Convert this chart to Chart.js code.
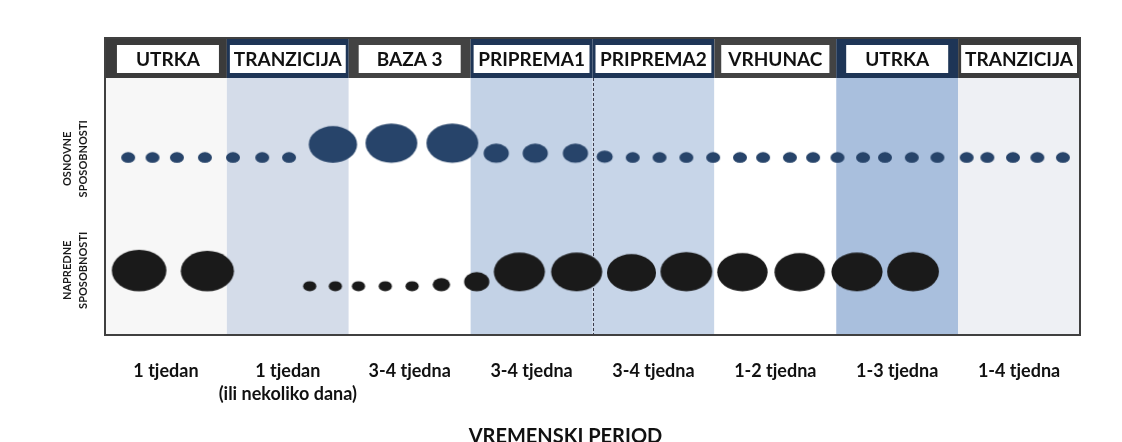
<!DOCTYPE html>
<html>
<head>
<meta charset="utf-8">
<script src="https://cdn.jsdelivr.net/npm/chart.js@4.4.1/dist/chart.umd.min.js"></script>
<style>
  html, body { margin: 0; padding: 0; background: #ffffff; }
  #wrap { width: 1122px; height: 442px; }
</style>
</head>
<body>
<div id="wrap"><canvas id="periodChart" width="1122" height="442"></canvas></div>
<script>
// Phases (columns) and their durations
const phases = ["UTRKA", "TRANZICIJA", "BAZA 3", "PRIPREMA1", "PRIPREMA2", "VRHUNAC", "UTRKA", "TRANZICIJA"];
const durations = [
  ["1 tjedan"],
  ["1 tjedan", "(ili nekoliko dana)"],
  ["3-4 tjedna"],
  ["3-4 tjedna"],
  ["3-4 tjedna"],
  ["1-2 tjedna"],
  ["1-3 tjedna"],
  ["1-4 tjedna"],
];
const axisTitle = "VREMENSKI PERIOD";
const rowLabels = [["OSNOVNE", "SPOSOBNOSTI"], ["NAPREDNE", "SPOSOBNOSTI"]];
const rowLevels = [0.67, 0.17];

// Basic abilities: position along the period (in columns) and emphasis
const osnovneX = [0.19, 0.39, 0.59, 0.82, 1.05, 1.29, 1.51, 1.87, 2.35, 2.85, 3.21, 3.53, 3.86, 4.10,
  4.33, 4.55, 4.77, 4.99, 5.21, 5.40, 5.62, 5.81, 6.01, 6.22, 6.40, 6.62, 6.83, 7.07, 7.24, 7.45, 7.65, 7.86];
const osnovneSize = [1, 1, 1, 1, 1, 1, 1, 3.45, 3.7, 3.7, 1.8, 1.8, 1.8, 1.15,
  1, 1, 1, 1, 1, 1, 1, 1, 1, 1, 1, 1, 1, 1, 1, 1, 1, 1];

// Advanced abilities
const napredneX = [0.28, 0.84, 1.68, 1.89, 2.08, 2.30, 2.52, 2.76, 3.05, 3.40, 3.87, 4.32, 4.77, 5.23, 5.70, 6.17, 6.63];
const napredneSize = [3.9, 3.8, 0.95, 0.95, 0.95, 0.95, 0.95, 1.25, 1.8, 3.65, 3.65, 3.5, 3.7, 3.6, 3.6, 3.65, 3.7];

// Styles
const colFill = ["#f7f7f7", "#d4dce9", "#ffffff", "#c3d2e6", "#c7d5e8", "#ffffff", "#a9bfdd", "#eef0f4"];
const headFill = ["#3b3b3b", "#1e3556", "#434343", "#1e3556", "#1e3556", "#434343", "#1e3556", "#3b3b3b"];
const FONT = "Lato, 'Open Sans', sans-serif";

// ellipse images, bottom-aligned on the point
const ellipseCache = {};
function ellipseStyle(size, color) {
  const key = size + color;
  if (ellipseCache[key]) return ellipseCache[key];
  const w = 14 * size;
  const h = w * 0.76;
  const c = document.createElement("canvas");
  c.width = Math.ceil(w + 2);
  c.height = Math.ceil(h * 2 + 2);
  const g = c.getContext("2d");
  g.fillStyle = color;
  g.beginPath();
  g.ellipse(c.width / 2, c.height / 2 - h / 2, w / 2, h / 2, 0, 0, Math.PI * 2);
  g.fill();
  ellipseCache[key] = c;
  return c;
}

const periodPlugin = {
  id: "periodFrame",
  beforeDatasetsDraw: function (chart) {
    const ctx = chart.ctx;
    const area = chart.chartArea;
    const xs = chart.scales.x;
    ctx.save();
    // column backgrounds
    phases.forEach(function (p, i) {
      const x0 = xs.getPixelForValue(i);
      const x1 = xs.getPixelForValue(i + 1);
      ctx.fillStyle = colFill[i];
      ctx.fillRect(x0, area.top, x1 - x0, area.bottom - area.top);
    });
    // dashed divider between PRIPREMA1 and PRIPREMA2
    const xd = Math.round(xs.getPixelForValue(4)) + 0.5;
    ctx.beginPath();
    ctx.setLineDash([3, 2]);
    ctx.moveTo(xd, area.top);
    ctx.lineTo(xd, area.bottom);
    ctx.lineWidth = 1;
    ctx.strokeStyle = "#3a3a4a";
    ctx.stroke();
    ctx.restore();
  },
  afterDraw: function (chart) {
    const ctx = chart.ctx;
    const area = chart.chartArea;
    const xs = chart.scales.x;
    const ys = chart.scales.y;
    ctx.save();
    // header band
    const headTop = area.top - 40;
    phases.forEach(function (p, i) {
      const x0 = xs.getPixelForValue(i);
      const x1 = xs.getPixelForValue(i + 1);
      ctx.fillStyle = headFill[i];
      ctx.fillRect(x0, headTop, x1 - x0, 40);
    });
    ctx.font = "bold 19px " + FONT;
    ctx.textAlign = "center";
    ctx.textBaseline = "middle";
    phases.forEach(function (p, i) {
      const x0 = xs.getPixelForValue(i);
      const x1 = xs.getPixelForValue(i + 1);
      const tw = ctx.measureText(p).width;
      const bw = Math.min(Math.max(tw + 14, 102), x1 - x0 - 6);
      const cx = (x0 + x1) / 2 + (i === 0 ? 2 : 0);
      ctx.fillStyle = "#ffffff";
      ctx.fillRect(cx - bw / 2, headTop + 7, bw, 28);
      ctx.fillStyle = "#111111";
      ctx.fillText(p, cx, headTop + 22);
    });
    // frame
    ctx.strokeStyle = "#404040";
    ctx.lineWidth = 2;
    ctx.strokeRect(area.left, headTop, area.right - area.left, area.bottom - headTop);
    // row labels, rotated
    ctx.fillStyle = "#1a1a1a";
    ctx.font = "bold 11px " + FONT;
    rowLabels.forEach(function (lines, r) {
      const cy = ys.getPixelForValue(rowLevels[r]) - (r === 0 ? 4 : 21);
      lines.forEach(function (t, k) {
        ctx.save();
        ctx.translate(67 + k * 16, cy);
        ctx.rotate(-Math.PI / 2);
        ctx.fillText(t, 0, 0);
        ctx.restore();
      });
    });
    // axis title, sits a little left of centre and runs off the bottom edge
    ctx.font = "bold 20px " + FONT;
    ctx.fillStyle = "#111111";
    ctx.textBaseline = "alphabetic";
    ctx.fillText(axisTitle, (area.left + area.right) / 2 - 27, chart.height + 1);
    ctx.restore();
  },
};

function toPoints(xs, sizes, level) {
  return xs.map(function (x, i) {
    return { x: x, y: level, s: sizes[i] };
  });
}

const ctx = document.getElementById("periodChart").getContext("2d");
const periodChart = new Chart(ctx, {
  type: "scatter",
  data: {
    datasets: [
      {
        label: "Osnovne sposobnosti",
        data: toPoints(osnovneX, osnovneSize, rowLevels[0]),
        pointStyle: function (c) {
          return ellipseStyle(c.raw.s, "#27446a");
        },
      },
      {
        label: "Napredne sposobnosti",
        data: toPoints(napredneX, napredneSize, rowLevels[1]),
        pointStyle: function (c) {
          return ellipseStyle(c.raw.s, "#1a1a1a");
        },
      },
    ],
  },
  options: {
    responsive: false,
    animation: false,
    devicePixelRatio: 1,
    layout: {
      padding: { left: 105, right: 42, top: 78, bottom: 0 },
    },
    plugins: {
      legend: { display: false },
      tooltip: { enabled: false },
    },
    scales: {
      x: {
        type: "linear",
        min: 0,
        max: 8,
        afterBuildTicks: function (scale) {
          scale.ticks = phases.map(function (p, i) {
            return { value: i + 0.5 };
          });
        },
        afterFit: function (scale) {
          scale.height = 107;
        },
        grid: { display: false, drawTicks: false },
        border: { display: false },
        ticks: {
          autoSkip: false,
          maxRotation: 0,
          padding: 24,
          color: "#111111",
          font: { size: 18, weight: "bold", family: FONT, lineHeight: 1.3 },
          callback: function (value, index) {
            return durations[index];
          },
        },
      },
      y: {
        display: false,
        min: 0,
        max: 1,
      },
    },
  },
  plugins: [periodPlugin],
});
</script>
</body>
</html>
